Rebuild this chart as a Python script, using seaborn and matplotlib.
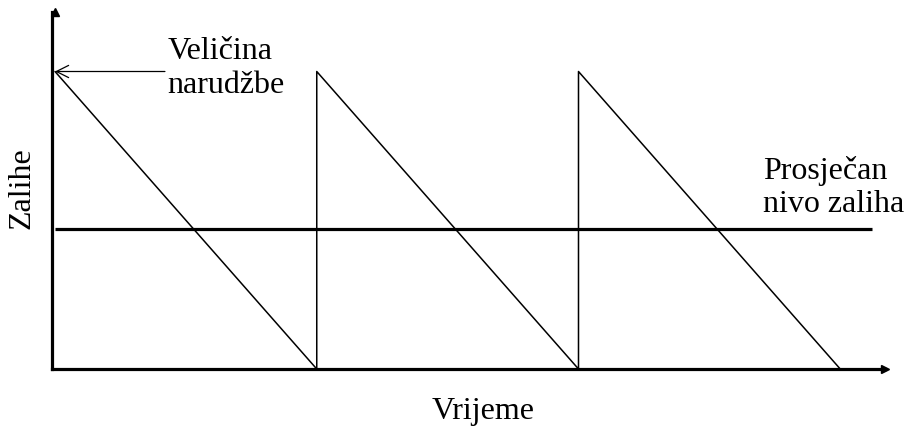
import matplotlib
matplotlib.use("Agg")
import matplotlib.pyplot as plt
import seaborn as sns
import pandas as pd
import numpy as np

# podaci - pilasti dijagram zaliha
vrijeme = [0, 1, 1, 2, 2, 3]
zalihe = [100, 0, 100, 0, 100, 0]
prosjek = 47
prosjek_kraj = 3.12
velicina_narudzbe = 100

sns.set_style("white")
plt.rcParams["font.family"] = ["Liberation Serif", "DejaVu Serif"]
plt.rcParams["font.size"] = 23
plt.rcParams["text.color"] = "black"

fig = plt.figure(figsize=(9.07, 4.26), dpi=100)
ax = fig.add_axes([52 / 907, 57 / 426, 833 / 907, 357 / 426])

df = pd.DataFrame({"Vrijeme": vrijeme, "Zalihe": zalihe})
sns.lineplot(data=df, x="Vrijeme", y="Zalihe", sort=False, estimator=None,
             color="black", lw=1.1, ax=ax)

# prosjecan nivo zaliha
ax.hlines(prosjek, 0, prosjek_kraj, color="black", lw=2.3)

ax.set_xlim(-0.0115, 3.171)
ax.set_ylim(0, 120)

# osi sa strelicama
for s in ["top", "right"]:
    ax.spines[s].set_visible(False)
for s in ["left", "bottom"]:
    ax.spines[s].set_linewidth(2.3)
    ax.spines[s].set_color("black")
ax.plot(1, 0, ">k", ms=6, transform=ax.get_yaxis_transform(), clip_on=False)
ax.plot(0, 1, "^k", ms=6, transform=ax.get_xaxis_transform(), clip_on=False)
ax.set_xticks([])
ax.set_yticks([])
ax.set_xlabel("")
ax.set_ylabel("")

ax.annotate("", xy=(0, velicina_narudzbe), xytext=(0.42, velicina_narudzbe),
            arrowprops=dict(arrowstyle="->", lw=0.9, color="black",
                            mutation_scale=22, shrinkA=0, shrinkB=0))
ax.text(0.43, 101, "Veličina\nnarudžbe", va="center", ha="left", linespacing=1.2)
ax.text(2.705, 61, "Prosječan\nnivo zaliha", va="center", ha="left", linespacing=1.15)

fig.text(483 / 907, 1 - 419 / 426, "Vrijeme", ha="center", va="baseline")
fig.text(22 / 907, 1 - 188 / 426, "Zalihe", ha="center", va="center", rotation=90)

plt.savefig("out.png", dpi=100)
